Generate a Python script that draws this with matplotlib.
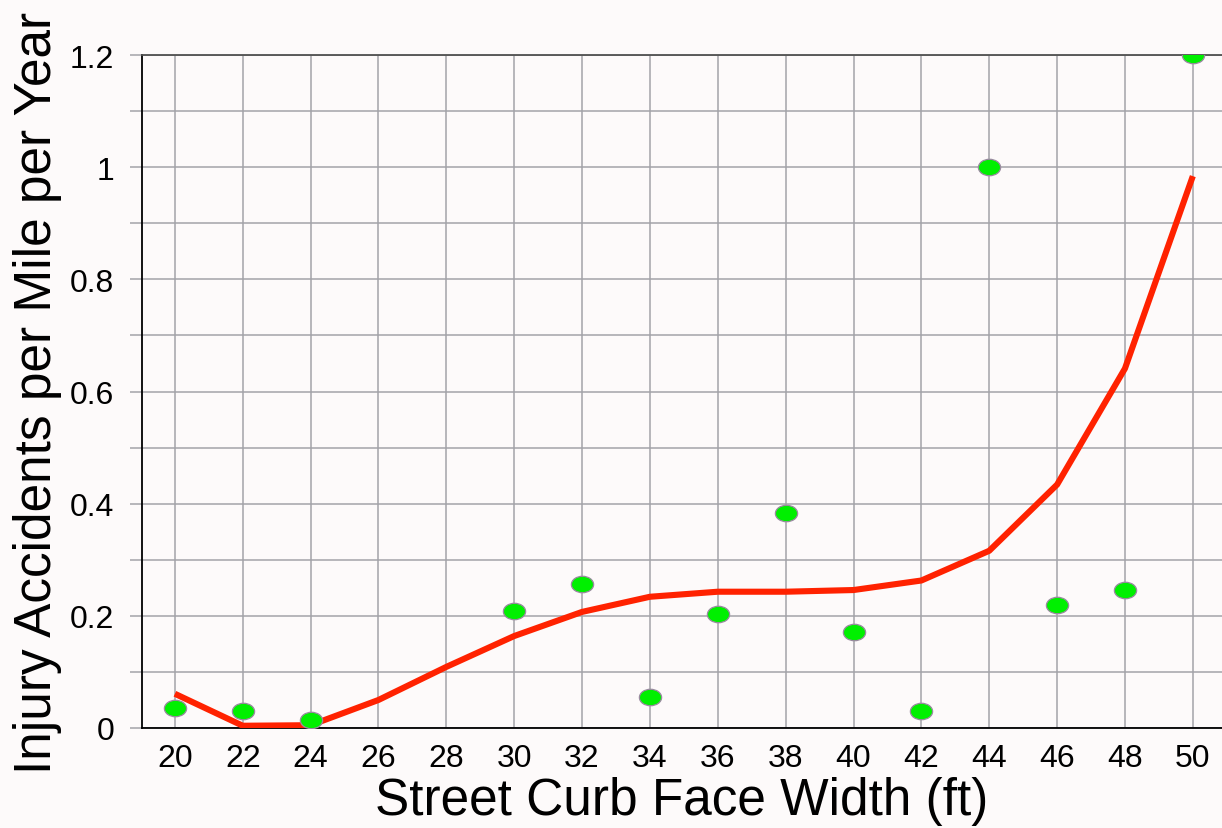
import numpy as np
import matplotlib
matplotlib.use('Agg')
import matplotlib.pyplot as plt
from matplotlib.path import Path
from matplotlib.transforms import Affine2D

width_ft = [20, 22, 24, 26, 28, 30, 32, 34, 36, 38, 40, 42, 44, 46, 48, 50]
# fitted curve (red line)
fit_vals = [0.061, 0.004, 0.005, 0.050, 0.109, 0.164, 0.207, 0.234,
            0.243, 0.243, 0.246, 0.263, 0.316, 0.434, 0.641, 0.984]

# observed points (green dots)
obs_x = [20, 22, 24, 30, 32, 34, 36, 38, 40, 42, 44, 46, 48, 50]
obs_y = [0.035, 0.031, 0.014, 0.209, 0.257, 0.055, 0.204, 0.384,
         0.171, 0.030, 1.0, 0.22, 0.246, 1.2]

x_ticks = list(range(20, 51, 2))
y_ticks = [0, 0.2, 0.4, 0.6, 0.8, 1.0, 1.2]
y_labels = ['0', '0.2', '0.4', '0.6', '0.8', '1', '1.2']

plt.rcParams['font.family'] = ['Liberation Sans', 'DejaVu Sans']
bg = '#fdfafa'

fig = plt.figure(figsize=(12.22, 8.29), dpi=100, facecolor=bg)
ax = fig.add_axes([142/1222, 100/829, 1 - 142/1222, (729-56)/829])
ax.set_facecolor(bg)

# grid
ax.set_xticks(x_ticks)
ax.set_yticks(y_ticks)
ax.set_yticks(np.arange(0.1, 1.2, 0.2), minor=True)
ax.grid(True, which='both', color='#a3a3a8', linewidth=1.1)
ax.set_axisbelow(True)

ax.plot(width_ft, fit_vals, color='#ff2200', linewidth=4.4,
        solid_capstyle='butt', zorder=3)

ell = Path.unit_circle().transformed(Affine2D().scale(1.0, 0.74))
ax.plot(obs_x, obs_y, linestyle='none', marker=ell, markersize=16,
        markerfacecolor='#00f000', markeredgecolor='#9a8aa0',
        markeredgewidth=0.9, zorder=4)

ax.set_xlim(19.03, 50.86)
ax.set_ylim(0, 1.2)

ax.set_yticklabels(y_labels)
ax.tick_params(axis='y', which='both', length=9, width=1.1, color='#a3a3a8',
               labelsize=23, pad=11)
ax.tick_params(axis='x', length=0, labelsize=23, pad=11)

for s in ['left', 'bottom']:
    ax.spines[s].set_color('black')
    ax.spines[s].set_linewidth(1.3)
ax.spines['top'].set_color('#505050')
ax.spines['top'].set_linewidth(1.3)
ax.spines['right'].set_visible(False)

ax.set_xlabel('Street Curb Face Width (ft)', fontsize=37, labelpad=2)
ax.set_ylabel('Injury Accidents per Mile per Year', fontsize=37, labelpad=6)

fig.savefig('out.png', dpi=100, facecolor=bg)
